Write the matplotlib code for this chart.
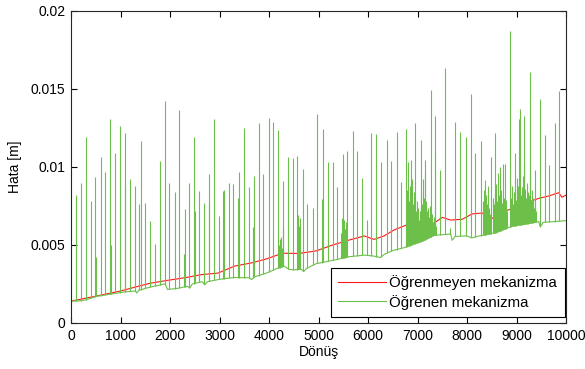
import numpy as np
import matplotlib
matplotlib.use("Agg")
import matplotlib.pyplot as plt

plt.rcParams['font.family'] = ['Liberation Sans', 'DejaVu Sans']

# lower envelope of the green series (Dönüş, Hata)
base_x = [0, 150, 300, 500, 800, 1100, 1300, 1330, 1370, 1600, 1900, 1950,
          2150, 2350, 2400, 2450, 2650, 2700, 2760, 3000, 3300, 3600, 3650,
          3700, 3950, 4150, 4300, 4400, 4500, 4650, 4700, 4760, 4950, 5300,
          5620, 5925, 6100, 6250, 6330, 6500, 6700, 7130, 7330, 7670, 7700,
          7760, 8000, 8100, 8200, 8570, 8900, 9250, 9450, 9480, 9540, 10000]
base_y = [0.00141, 0.00141, 0.00148, 0.00170, 0.00185, 0.00200, 0.00205,
          0.00192, 0.00210, 0.00230, 0.00250, 0.00215, 0.00222, 0.00235,
          0.00225, 0.00250, 0.00265, 0.00245, 0.00265, 0.00280, 0.00292,
          0.00290, 0.00278, 0.00295, 0.00320, 0.00348, 0.00365, 0.00345,
          0.00340, 0.00345, 0.00330, 0.00350, 0.00380, 0.00402, 0.00425,
          0.00435, 0.00430, 0.00420, 0.00440, 0.00465, 0.00480, 0.00530,
          0.00562, 0.00570, 0.00530, 0.00555, 0.00558, 0.00545, 0.00555,
          0.00578, 0.00620, 0.00638, 0.00650, 0.00615, 0.00645, 0.00656]

# single spikes of the green series
spike_x = [101, 196, 303, 397, 491, 510, 600, 693, 788, 805, 896, 990, 1085,
           1100, 1192, 1286, 1380, 1408, 1502, 1596, 1704, 1798, 1892, 1986,
           2094, 2189, 2290, 2296, 2391, 2485, 2500, 2580, 2592, 2687, 2781,
           2794, 2889, 2983, 3077, 3090, 3185, 3279, 3374, 3400, 3495, 3590,
           3683, 3697, 3791, 3886, 3993, 4087, 4182, 4289, 4384, 4479, 4572,
           4680, 4774, 4882, 4976, 5071, 5097, 5192, 5286, 5380, 5488, 5582,
           5690, 5784, 5879, 5973, 6067, 6162, 6269, 6377, 6471, 6579, 6673,
           6768, 6862, 6956, 7064, 7158, 7266, 7360, 7454, 7562, 7656, 7764,
           7859, 7980, 8075, 8168, 8277, 8370, 8479, 8572, 8667, 8762, 8869,
           8964, 9071, 9152, 9273, 9367, 9475, 9569, 9663, 9771, 9865]
spike_y = [0.0082, 0.00897, 0.0119, 0.0078, 0.00936, 0.0042, 0.01066, 0.0097,
           0.0131, 0.0050, 0.01088, 0.0126, 0.0122, 0.0088, 0.0092, 0.0088,
           0.0076, 0.01167, 0.0077, 0.00654, 0.00504, 0.0104, 0.01425, 0.0090,
           0.00838, 0.01365, 0.0044, 0.00729, 0.00895, 0.01194, 0.0072, 0.0031,
           0.00846, 0.00767, 0.0077, 0.00955, 0.01305, 0.00686, 0.00846, 0.0085,
           0.00895, 0.00891, 0.00803, 0.0097, 0.01248, 0.00874, 0.00613,
           0.00942, 0.01284, 0.00953, 0.01312, 0.01286, 0.01237, 0.0091,
           0.01066, 0.01055, 0.01072, 0.00985, 0.0076, 0.00739, 0.0134,
           0.00793, 0.01241, 0.0103, 0.0103, 0.00874, 0.01081, 0.01103,
           0.01233, 0.01103, 0.00928, 0.0066, 0.01216, 0.01212, 0.01034,
           0.01173, 0.01038, 0.01222, 0.00902, 0.01241, 0.01045, 0.0128,
           0.01173, 0.01045, 0.01494, 0.01327, 0.00981, 0.01633, 0.0061,
           0.01286, 0.01227, 0.01194, 0.01466, 0.01088, 0.01169, 0.00917,
           0.01066, 0.01216, 0.01002, 0.01019, 0.01872, 0.01092, 0.0137,
           0.01329, 0.01611, 0.00981, 0.01434, 0.01205, 0.01013, 0.0128,
           0.01487]

# dense bursts of short spikes
burst1_x = [4195, 4215, 4235, 4250, 4265, 4280, 4590, 4610, 4630,
            5460, 5475, 5495, 5515, 5540, 5560]
burst1_y = [0.0050, 0.0054, 0.0046, 0.0055, 0.0048, 0.0061, 0.0069, 0.0062,
            0.0067, 0.0058, 0.0067, 0.0062, 0.0066, 0.0060, 0.0065]

burst2_x = [6780, 6800, 6820, 6840, 6860, 6880, 6900, 6920, 6940, 6960, 6980,
            7000, 7020, 7040, 7060, 7080, 7100, 7120, 7140, 7160, 7180, 7200,
            7220, 7240, 7260, 7280, 7300, 7320, 7340, 7350, 7380]
burst2_y = [0.0085, 0.0103, 0.0078, 0.0088, 0.0082, 0.0092, 0.0076, 0.0084,
            0.0080, 0.0072, 0.0078, 0.0070, 0.0074, 0.0066, 0.0072, 0.0083,
            0.0076, 0.0092, 0.0080, 0.0096, 0.0078, 0.0072, 0.0074, 0.0068,
            0.0075, 0.0066, 0.0070, 0.0064, 0.0068, 0.0110, 0.0062]

burst3_x = [8320, 8340, 8360, 8380, 8400, 8420, 8440, 8460,
            8520, 8540, 8560, 8580, 8600, 8620, 8640, 8660, 8680, 8700, 8720,
            8740, 8760, 8780, 8800]
burst3_y = [0.0078, 0.0085, 0.0074, 0.0082, 0.0076, 0.0088, 0.0074, 0.0070,
            0.0080, 0.0076, 0.0084, 0.0089, 0.0078, 0.0096, 0.0082, 0.0078,
            0.0085, 0.0077, 0.0102, 0.0080, 0.0074, 0.0079, 0.0072]

burst4_x = [8880, 8900, 8920, 8940, 8960, 8980, 9000, 9020, 9040, 9060, 9080,
            9100, 9120, 9140, 9160, 9180, 9200, 9220, 9240, 9260, 9280, 9300,
            9320, 9340, 9360, 9380, 9400]
burst4_y = [0.0080, 0.0088, 0.0076, 0.0084, 0.0085, 0.0079, 0.0093, 0.0085,
            0.0088, 0.0131, 0.0090, 0.0082, 0.0087, 0.0094, 0.0101, 0.0086,
            0.0080, 0.0090, 0.0084, 0.0082, 0.0096, 0.0078, 0.0085, 0.0080,
            0.0074, 0.0078, 0.0072]

# red series
red_x = [0, 500, 1000, 1330, 1600, 1960, 2300, 2633, 2970, 3306, 3643, 3939,
         4276, 4613, 4949, 5287, 5622, 5925, 6121, 6323, 6525, 6727, 6929,
         7131, 7333, 7501, 7670, 7905, 8101, 8303, 8505, 8707, 8909, 9178,
         9448, 9650, 9852, 9919, 10000]
red_y = [0.0014, 0.00172, 0.00205, 0.00233, 0.00255, 0.00274, 0.0029,
         0.0031, 0.0032, 0.00365, 0.00385, 0.0041, 0.00447, 0.00446, 0.00462,
         0.0050, 0.00532, 0.00558, 0.00536, 0.00558, 0.00596, 0.00622,
         0.00645, 0.0064, 0.0064, 0.00677, 0.0066, 0.00665, 0.00699, 0.00705,
         0.0067, 0.00714, 0.00731, 0.00767, 0.00799, 0.00814, 0.00835,
         0.00806, 0.0082]

GREEN = '#6cc04a'
RED = '#ff1a1a'

fig = plt.figure(figsize=(5.85, 3.69), dpi=100)
ax = fig.add_axes([71/585, 46/369, 495/585, 312/369])

ax.plot(red_x, red_y, color=RED, lw=0.8, label='Öğrenmeyen mekanizma')
ax.plot(base_x, base_y, color=GREEN, lw=0.8, label='Öğrenen mekanizma')

sx = np.array(spike_x + burst1_x + burst2_x + burst3_x + burst4_x)
sy = np.array(spike_y + burst1_y + burst2_y + burst3_y + burst4_y)
feet = np.interp(sx, base_x, base_y)
ax.vlines(sx, feet, sy, color=GREEN, lw=0.8)

ax.set_xlim(0, 10000)
ax.set_ylim(0, 0.02)
ax.set_xticks(np.arange(0, 10001, 1000))
ax.set_yticks([0, 0.005, 0.01, 0.015, 0.02])
ax.set_yticklabels(['0', '0.005', '0.01', '0.015', '0.02'])
ax.tick_params(direction='in', top=True, right=True, length=4, width=0.8,
               labelsize=10, pad=4)
for s in ax.spines.values():
    s.set_linewidth(0.8)
    s.set_color('#262626')

ax.set_xlabel('Dönüş', fontsize=10, labelpad=2)
ax.set_ylabel('Hata [m]', fontsize=10, labelpad=6)

leg = ax.legend(loc='lower right', bbox_to_anchor=(564.5/585, 52/369),
                bbox_transform=fig.transFigure, borderaxespad=0,
                fontsize=10.8, fancybox=False, edgecolor='black',
                framealpha=1, handlelength=3.2, handletextpad=0.2,
                borderpad=0.5, labelspacing=0.3)
leg.get_frame().set_linewidth(0.8)

fig.savefig('out.png', dpi=100)
